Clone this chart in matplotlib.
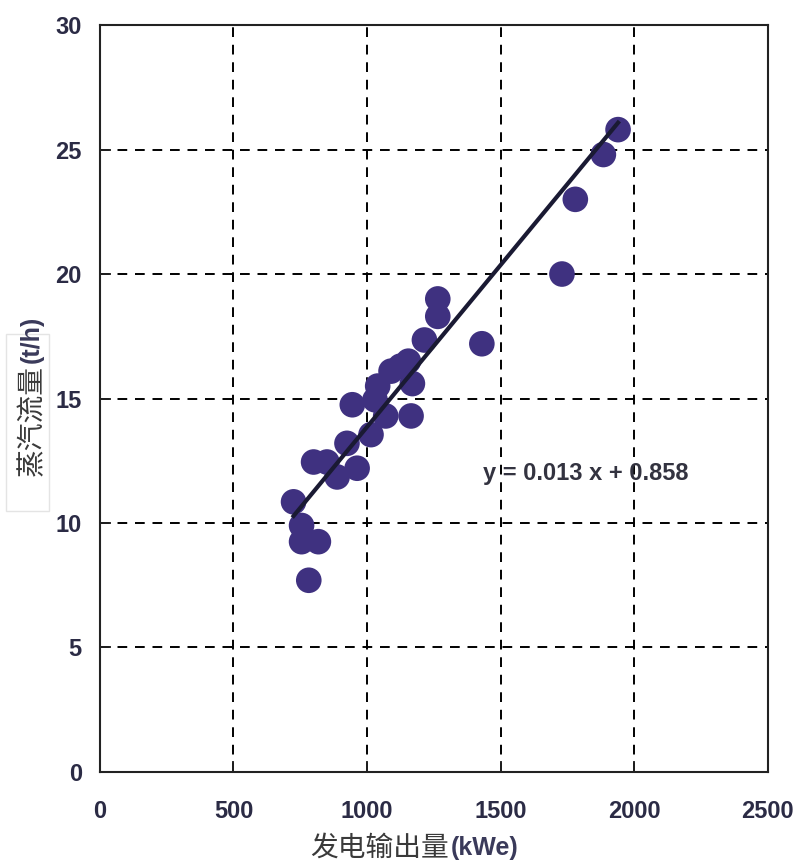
import matplotlib
matplotlib.use("Agg")
import matplotlib.pyplot as plt
from matplotlib.patches import Rectangle
import numpy as np

plt.rcParams['font.family'] = ['Noto Sans CJK SC', 'DejaVu Sans']

# Data
power_kwe = [1940, 1885, 1780, 1730, 1430, 1265, 1265, 1215, 1155, 1125,
             1090, 1170, 1040, 1030, 945, 1070, 1165, 1015, 925, 800,
             850, 963, 888, 725, 755, 755, 818, 782]
steam_th = [25.8, 24.8, 23.0, 20.0, 17.2, 19.0, 18.3, 17.35, 16.5, 16.3,
            16.1, 15.6, 15.5, 14.95, 14.75, 14.3, 14.3, 13.55, 13.2, 12.45,
            12.45, 12.2, 11.85, 10.85, 9.9, 9.25, 9.25, 7.7]
slope = 0.013
intercept = 0.858
x_ticks = [0, 500, 1000, 1500, 2000, 2500]
y_ticks = [0, 5, 10, 15, 20, 25, 30]
x_label_cjk = "发电输出量"
x_label_unit = "(kWe)"
y_label_cjk = "蒸汽流量"
y_label_unit = "(t/h)"
eq_text = "y = 0.013 x + 0.858"

fig = plt.figure(figsize=(7.93, 8.64), dpi=100)
ax = fig.add_axes([0.126, 0.1065, 0.842, 0.8645])

ax.scatter(power_kwe, steam_th, s=340, color='#3f3180', edgecolors='none', zorder=3)
xl = np.array([min(power_kwe), max(power_kwe)])
ax.plot(xl, slope * xl + intercept, color='#1a1a33', lw=3, zorder=4)

ax.set_xlim(0, 2500)
ax.set_ylim(0, 30)
ax.set_xticks(x_ticks)
ax.set_yticks(y_ticks)
ax.grid(True, color='black', linestyle=(0, (5, 4)), lw=1.4)
ax.set_axisbelow(True)
for s in ax.spines.values():
    s.set_color('#222222')
    s.set_linewidth(1.5)
ax.tick_params(direction='in', length=8, width=1.3, color='#222222')

for lab in ax.get_xticklabels():
    lab.set_family(['Liberation Sans Narrow', 'Liberation Sans'])
    lab.set_fontweight('bold')
    lab.set_fontsize(17)
    lab.set_color('#2b2b45')
for lab in ax.get_yticklabels():
    lab.set_family(['Liberation Sans'])
    lab.set_fontweight('bold')
    lab.set_fontsize(17)
    lab.set_color('#2b2b45')
ax.tick_params(axis='x', pad=20)
ax.tick_params(axis='y', pad=13)

# x label (CJK regular + bold unit)
fig.text(0.566, 0.019, x_label_cjk, fontsize=20, color='#3a3a3a',
         ha='right', va='center', family=['Noto Sans CJK SC', 'DejaVu Sans'])
fig.text(0.568, 0.019, x_label_unit, fontsize=18, fontweight='bold',
         color='#3a3a5a', ha='left', va='center', family=['Liberation Sans'])

# y label with light box
fig.add_artist(Rectangle((0.008, 0.408), 0.054, 0.205, transform=fig.transFigure,
                         facecolor='white', edgecolor='#e4e4e4', lw=1.0, zorder=0))
fig.text(0.040, 0.578, y_label_cjk, fontsize=20, color='#3a3a3a', rotation=90,
         ha='center', va='top', family=['Noto Sans CJK SC', 'DejaVu Sans'])
fig.text(0.040, 0.580, y_label_unit, fontsize=18, fontweight='bold', rotation=90,
         color='#3a3a5a', ha='center', va='bottom', family=['Liberation Sans'])

ax.text(1433, 12.0, eq_text, fontsize=17, fontweight='bold', color='#333340',
        family=['Liberation Sans'], va='center', ha='left')

fig.savefig('out.png', dpi=100, facecolor='white')
